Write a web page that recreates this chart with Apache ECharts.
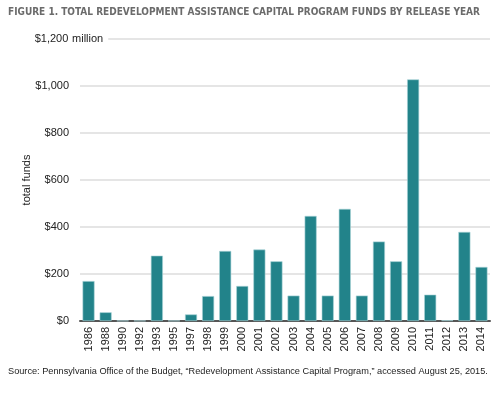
<!DOCTYPE html>
<html>
<head>
<meta charset="utf-8">
<script src="https://cdn.jsdelivr.net/npm/echarts@6/dist/echarts.min.js"></script>
<style>
  html, body { margin: 0; padding: 0; background: #fff; }
  #myChart { width: 497px; height: 397px; }
</style>
</head>
<body>
<div id="myChart"></div>
<script>
// 年份 / 金额（百万美元）
const years = ['1986', '1988', '1990', '1992', '1993', '1995', '1997', '1998', '1999', '2000',
  '2001', '2002', '2003', '2004', '2005', '2006', '2007', '2008', '2009', '2010',
  '2011', '2012', '2013', '2014']
const funds = [170, 37, 1, 1, 278, 1, 28, 106, 298, 149,
  304, 254, 108, 447, 108, 477, 108, 338, 254, 1028,
  112, 3, 379, 230]
const yTicks = [0, 200, 400, 600, 800, 1000, 1200]

const titleText = 'FIGURE 1. TOTAL REDEVELOPMENT ASSISTANCE CAPITAL PROGRAM FUNDS BY RELEASE YEAR'
const sourceText = 'Source: Pennsylvania Office of the Budget, \u201cRedevelopment Assistance Capital Program,\u201d accessed August 25, 2015.'

let myChart = echarts.init(document.getElementById('myChart'))

var option = {
  animation: false,
  title: [
    {
      text: titleText,
      left: 3,
      top: 2,
      textStyle: {
        fontFamily: '"DejaVu Sans Condensed", sans-serif',
        fontSize: 10,
        fontWeight: 'bold',
        color: '#6b6b6b'
      }
    },
    {
      text: sourceText,
      left: 3,
      top: 362,
      textStyle: {
        fontFamily: '"Liberation Sans", Arial, sans-serif',
        fontSize: 9.2,
        fontWeight: 'normal',
        color: '#222'
      }
    }
  ],
  grid: {
    left: 80,
    right: 7,
    top: 39,
    bottom: 76
  },
  xAxis: {
    type: 'category',
    data: years,
    axisTick: { show: false },
    axisLine: { lineStyle: { color: '#555', width: 2 } },
    axisLabel: {
      rotate: 90,
      interval: 0,
      margin: 6,
      fontSize: 11,
      color: '#222',
      fontFamily: '"Liberation Sans", Arial, sans-serif'
    }
  },
  yAxis: {
    type: 'value',
    min: 0,
    max: 1200,
    interval: 200,
    name: 'total funds',
    nameLocation: 'middle',
    nameRotate: 90,
    nameGap: 48,
    nameMoveOverlap: false,
    nameTextStyle: {
      fontSize: 11,
      color: '#222',
      fontFamily: '"Liberation Sans", Arial, sans-serif'
    },
    axisLine: { show: false },
    axisTick: { show: false },
    splitLine: { lineStyle: { color: '#dcdcdc', width: 1.5 } },
    axisLabel: {
      align: 'left',
      margin: 46,
      color: '#222',
      fontSize: 11,
      fontFamily: '"Liberation Sans", Arial, sans-serif',
      formatter: function (v) {
        var s = '$' + v.toLocaleString('en-US')
        if (v === yTicks[yTicks.length - 1]) {
          return '{v|' + s + '}{m| million}'
        }
        return '{v|' + s + '}'
      },
      rich: {
        v: { width: 35, align: 'right', fontSize: 11, color: '#222' },
        m: { fontSize: 11, color: '#222', backgroundColor: '#fff', padding: [2, 5, 2, 0] }
      }
    }
  },
  series: [
    {
      name: 'total funds',
      type: 'bar',
      data: funds,
      barWidth: 12,
      itemStyle: {
        color: '#22838a',
        borderColor: '#a9d3d6',
        borderWidth: 0.6
      }
    }
  ]
}

myChart.setOption(option)
window.onresize = myChart.resize
</script>
</body>
</html>
